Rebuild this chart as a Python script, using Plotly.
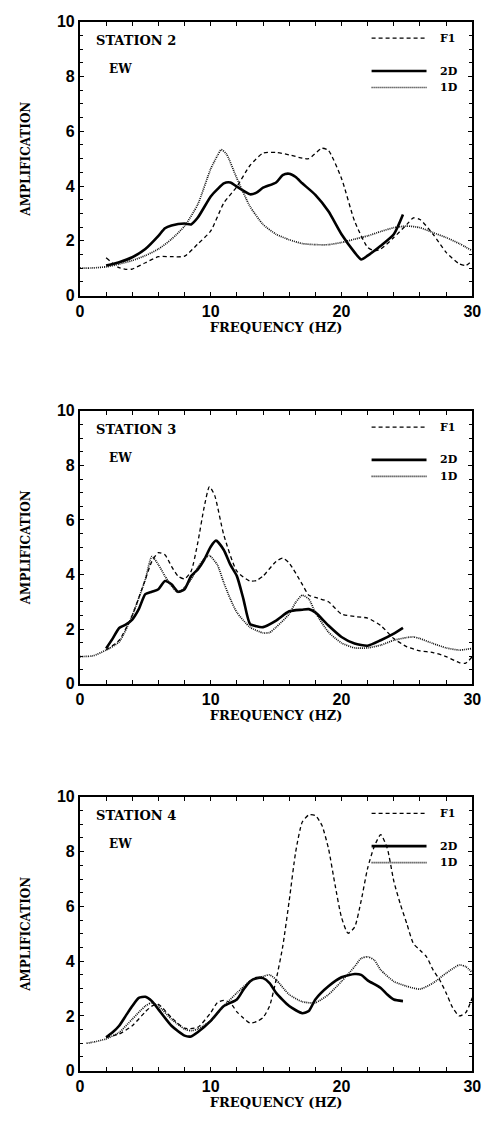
import plotly.graph_objects as go

# ---- Station 2, EW ----
s2_f1_x = [2.0, 2.9, 3.5, 4.0, 5.0, 6.0, 7.0, 8.0, 9.0, 10.0, 11.0, 12.0, 13.0, 14.0, 15.0, 16.0, 17.0, 17.5, 18.5, 19.0,
           20.0, 21.0, 22.0, 22.5, 23.0, 24.0, 25.0, 25.5, 26.0, 27.0, 28.0, 29.0, 29.5, 30.0]
s2_f1_y = [1.38, 1.04, 0.96, 0.97, 1.2, 1.42, 1.42, 1.44, 1.88, 2.36, 3.38, 3.98, 4.75, 5.2, 5.23, 5.14, 5.02, 5.0, 5.38, 5.3,
           4.28, 2.72, 1.76, 1.64, 1.7, 2.12, 2.6, 2.84, 2.78, 2.24, 1.58, 1.16, 1.1, 1.28]
s2_2d_x = [2.0, 3.0, 4.0, 5.0, 6.0, 6.5, 7.0, 8.0, 8.5, 9.0, 10.0, 10.5, 11.0, 11.5, 12.0, 13.0, 13.5, 14.0, 15.0, 15.5,
           16.0, 16.5, 17.0, 18.0, 19.0, 20.0, 21.0, 21.5, 22.0, 23.0, 24.0, 24.7]
s2_2d_y = [1.1, 1.22, 1.4, 1.7, 2.18, 2.46, 2.56, 2.63, 2.6, 2.84, 3.62, 3.88, 4.1, 4.13, 3.98, 3.7, 3.76, 3.94, 4.13, 4.4,
           4.45, 4.33, 4.1, 3.68, 3.08, 2.24, 1.58, 1.32, 1.46, 1.82, 2.24, 2.96]
s2_1d_x = [0.0, 1.0, 2.0, 3.0, 4.0, 5.0, 6.0, 7.0, 8.0, 9.0, 10.0, 10.5, 10.8, 11.2, 12.0, 13.0, 14.0, 15.0, 16.0, 17.0,
           18.0, 19.0, 20.0, 21.0, 22.0, 23.0, 24.0, 25.0, 26.0, 27.0, 28.0, 29.0, 30.0]
s2_1d_y = [1.0, 1.01, 1.05, 1.15, 1.28, 1.46, 1.7, 2.06, 2.54, 3.32, 4.63, 5.1, 5.33, 5.17, 4.28, 3.26, 2.6, 2.24, 2.04, 1.9,
           1.86, 1.86, 1.94, 2.06, 2.18, 2.34, 2.48, 2.54, 2.48, 2.3, 2.12, 1.9, 1.64]

# ---- Station 3, EW ----
s3_f1_x = [2.0, 3.0, 4.0, 5.0, 5.5, 6.0, 6.5, 7.0, 7.5, 8.0, 8.5, 9.0, 9.5, 9.9, 10.3, 11.0, 12.0, 13.0, 13.5, 14.0,
           15.0, 15.5, 16.0, 17.0, 17.5, 18.0, 19.0, 20.0, 21.0, 22.0, 23.0, 24.0, 25.0, 26.0, 27.0, 28.0, 29.0, 29.5, 30.0]
s3_f1_y = [1.23, 1.59, 2.5, 3.82, 4.48, 4.8, 4.72, 4.3, 3.94, 3.84, 4.12, 5.14, 6.47, 7.22, 6.9, 5.45, 4.12, 3.76, 3.78, 3.94,
           4.48, 4.6, 4.42, 3.64, 3.24, 3.16, 3.0, 2.55, 2.46, 2.4, 2.13, 1.65, 1.35, 1.2, 1.14, 0.99, 0.77, 0.75, 0.99]
s3_2d_x = [2.0, 2.5, 3.0, 3.5, 4.0, 4.5, 5.0, 5.5, 6.0, 6.5, 7.0, 7.5, 8.0, 8.5, 9.0, 9.5, 10.0, 10.4, 11.0, 11.5,
           12.0, 12.5, 13.0, 13.5, 14.0, 15.0, 16.0, 17.0, 17.5, 18.0, 19.0, 20.0, 21.0, 22.0, 23.0, 24.0, 24.7]
s3_2d_y = [1.29, 1.65, 2.04, 2.16, 2.35, 2.73, 3.28, 3.37, 3.46, 3.76, 3.64, 3.37, 3.46, 3.94, 4.18, 4.54, 5.02, 5.24, 4.9, 4.36,
           3.94, 3.1, 2.19, 2.1, 2.07, 2.31, 2.65, 2.71, 2.73, 2.61, 2.13, 1.71, 1.47, 1.39, 1.59, 1.83, 2.04]
s3_1d_x = [0.0, 1.0, 2.0, 3.0, 4.0, 5.0, 5.5, 6.0, 6.5, 7.0, 7.5, 8.0, 8.5, 9.0, 9.5, 9.9, 10.5, 11.0, 11.5, 12.0,
           13.0, 14.0, 14.5, 15.0, 16.0, 16.5, 17.0, 17.5, 18.0, 19.0, 20.0, 21.0, 22.0, 23.0, 24.0, 25.0, 25.5, 26.0,
           27.0, 28.0, 29.0, 30.0]
s3_1d_y = [0.99, 1.02, 1.23, 1.53, 2.5, 3.82, 4.66, 4.36, 3.94, 3.58, 3.34, 3.52, 3.82, 4.24, 4.58, 4.69, 4.36, 3.7, 3.1, 2.61,
           2.07, 1.86, 1.87, 2.07, 2.55, 2.98, 3.24, 3.1, 2.61, 1.89, 1.49, 1.31, 1.31, 1.41, 1.59, 1.69, 1.71, 1.65,
           1.47, 1.31, 1.23, 1.29]

# ---- Station 4, EW ----
s4_f1_x = [2.0, 3.0, 4.0, 5.0, 5.5, 6.0, 7.0, 8.0, 9.0, 10.0, 10.5, 11.0, 11.5, 12.0, 12.5, 13.0, 13.5, 14.0, 14.5, 15.0,
           15.5, 16.0, 16.5, 17.0, 17.5, 18.0, 18.5, 19.0, 19.5, 20.0, 20.5, 21.0, 21.5, 22.0, 22.5, 23.0, 23.5, 24.0,
           24.5, 25.0, 25.5, 26.0, 26.5, 27.0, 27.5, 28.0, 28.5, 29.0, 29.5, 30.0]
s4_f1_y = [1.22, 1.34, 1.64, 2.15, 2.36, 2.42, 1.94, 1.55, 1.58, 2.12, 2.48, 2.57, 2.48, 2.15, 1.92, 1.74, 1.79, 1.94, 2.36, 3.32,
           4.52, 6.2, 8.0, 9.08, 9.34, 9.32, 8.96, 8.12, 6.8, 5.6, 5.02, 5.24, 6.2, 7.4, 8.18, 8.62, 8.12, 6.92,
           6.08, 5.36, 4.64, 4.4, 4.16, 3.68, 3.32, 2.84, 2.3, 2.0, 2.12, 2.66]
s4_2d_x = [2.0, 2.5, 3.0, 3.5, 4.0, 4.5, 5.0, 5.5, 6.0, 7.0, 8.0, 8.5, 9.0, 10.0, 11.0, 12.0, 12.5, 13.0, 13.5, 14.0,
           14.5, 15.0, 16.0, 17.0, 17.5, 18.0, 19.0, 20.0, 21.0, 21.5, 22.0, 23.0, 23.5, 24.0, 24.7]
s4_2d_y = [1.22, 1.4, 1.64, 2.0, 2.36, 2.66, 2.7, 2.54, 2.24, 1.64, 1.28, 1.25, 1.4, 1.82, 2.36, 2.6, 2.96, 3.26, 3.38, 3.38,
           3.2, 2.84, 2.36, 2.1, 2.18, 2.6, 3.08, 3.41, 3.53, 3.5, 3.3, 3.02, 2.78, 2.6, 2.54]
s4_1d_x = [0.5, 1.0, 2.0, 3.0, 4.0, 5.0, 5.5, 6.0, 7.0, 8.0, 8.5, 9.0, 10.0, 11.0, 12.0, 13.0, 14.0, 14.5, 15.0, 16.0,
           17.0, 18.0, 19.0, 20.0, 21.0, 21.5, 22.0, 22.5, 23.0, 24.0, 25.0, 26.0, 27.0, 28.0, 29.0, 29.5, 30.0]
s4_1d_y = [1.0, 1.04, 1.16, 1.4, 1.88, 2.36, 2.48, 2.36, 1.88, 1.52, 1.46, 1.52, 1.82, 2.36, 2.84, 3.26, 3.44, 3.5, 3.32, 2.78,
           2.52, 2.48, 2.78, 3.26, 3.8, 4.1, 4.16, 4.04, 3.68, 3.26, 3.08, 2.98, 3.2, 3.56, 3.86, 3.8, 3.58]

station_names = ["STATION 2", "STATION 3", "STATION 4"]
component = "EW"
series_names = ["F1", "2D", "1D"]
x_tick_labels = [0, 10, 20, 30]
y_tick_labels = [0, 2, 4, 6, 8, 10]

stations = [
    ((s2_f1_x, s2_f1_y), (s2_2d_x, s2_2d_y), (s2_1d_x, s2_1d_y)),
    ((s3_f1_x, s3_f1_y), (s3_2d_x, s3_2d_y), (s3_1d_x, s3_1d_y)),
    ((s4_f1_x, s4_f1_y), (s4_2d_x, s4_2d_y), (s4_1d_x, s4_1d_y)),
]

FONT = "DejaVu Serif"
NUM_FONT = "Liberation Sans"
W, H = 492, 1123
# plot areas in pixels: (top, bottom)
panels_px = [(14, 292), (409, 686), (801, 1079)]
x_left, x_right = 78, 481

line_styles = [
    dict(color="black", width=1.3, dash="4px,3px"),
    dict(color="black", width=2.6, dash="solid"),
    dict(color="#111", width=1.7, dash="1px,1px"),
]

fig = go.Figure()
layout = dict(
    width=W, height=H, margin=dict(l=0, r=0, t=0, b=0),
    paper_bgcolor="white", plot_bgcolor="white", showlegend=False,
    font=dict(family=FONT, color="black"),
)
annotations = []
shapes = []

for i, series in enumerate(stations):
    n = "" if i == 0 else str(i + 1)
    xa, ya = "x" + n, "y" + n
    top, bot = panels_px[i]
    for (xs, ys), st, name in zip(series, line_styles, series_names):
        fig.add_trace(go.Scatter(x=xs, y=ys, mode="lines", line=dict(shape="spline", smoothing=0.6, **st),
                                 name=name, xaxis=xa, yaxis=ya))
    axis_common = dict(
        showgrid=False, zeroline=False, showline=True, linecolor="black", linewidth=2,
        mirror="allticks", ticks="inside", tickcolor="black", tickwidth=1.3,
        tickfont=dict(family=NUM_FONT, size=16, color="black", weight="bold"),
    )
    layout["xaxis" + n] = dict(
        axis_common, domain=[x_left / W, x_right / W], range=[0, 30], anchor=ya,
        tickvals=x_tick_labels, ticklen=4,
        minor=dict(dtick=2, ticks="inside", ticklen=4, tickcolor="black", tickwidth=1.3),
        title=dict(text="FREQUENCY (HZ)", standoff=0,
                   font=dict(family=FONT, size=13, color="black", weight="bold")),
    )
    layout["yaxis" + n] = dict(
        axis_common, domain=[1 - bot / H, 1 - top / H], range=[0, 10], anchor=xa,
        tickvals=y_tick_labels, ticklen=4,
        minor=dict(dtick=0.5, ticks="inside", ticklen=3, tickcolor="black", tickwidth=1.2),
        title=dict(text="AMPLIFICATION", standoff=24,
                   font=dict(family=FONT, size=12, color="black", weight="bold")),
    )
    # station / component labels
    annotations.append(dict(x=1.1, y=9.33, xref=xa, yref=ya, text=station_names[i], showarrow=False,
                            xanchor="left", yanchor="middle",
                            font=dict(family=FONT, size=13, color="black", weight="bold")))
    annotations.append(dict(x=2.1, y=8.28, xref=xa, yref=ya, text=component, showarrow=False,
                            xanchor="left", yanchor="middle",
                            font=dict(family=FONT, size=12, color="black", weight="bold")))
    # key: sample lines and labels
    for st, name, ky in zip(line_styles, series_names, [9.4, 8.2, 7.6]):
        shapes.append(dict(type="line", xref=xa, yref=ya, x0=22.3, x1=26.5, y0=ky, y1=ky,
                           line=dict(color=st["color"], width=st["width"], dash=st["dash"])))
        annotations.append(dict(x=27.4, y=ky, xref=xa, yref=ya, text=name, showarrow=False,
                                xanchor="left", yanchor="middle",
                                font=dict(family=FONT, size=11, color="black", weight="bold")))

layout["annotations"] = annotations
layout["shapes"] = shapes
fig.update_layout(**layout)
fig.write_html("out.html")
